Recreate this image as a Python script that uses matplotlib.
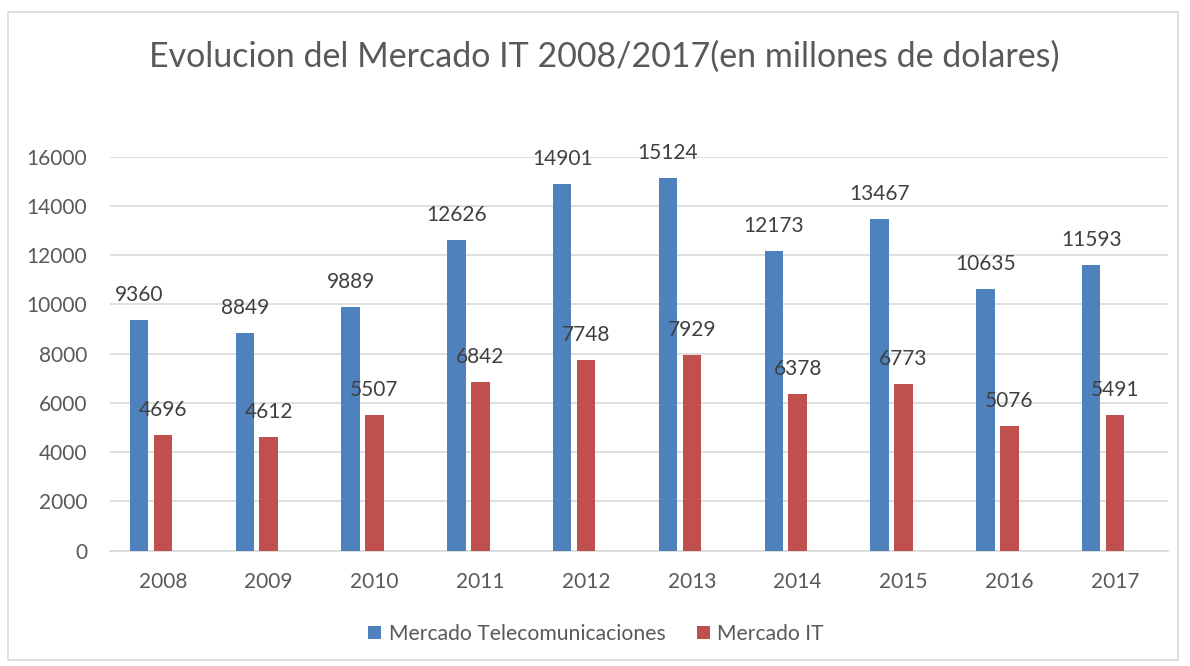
import matplotlib
matplotlib.use("Agg")
import matplotlib.pyplot as plt
from matplotlib.patches import Rectangle
import numpy as np

years = ["2008", "2009", "2010", "2011", "2012", "2013", "2014", "2015", "2016", "2017"]
telecom = [9360, 8849, 9889, 12626, 14901, 15124, 12173, 13467, 10635, 11593]
it_market = [4696, 4612, 5507, 6842, 7748, 7929, 6378, 6773, 5076, 5491]
series_names = ["Mercado Telecomunicaciones", "Mercado IT"]
title = "Evolucion del Mercado IT 2008/2017(en millones de dolares)"
yticks = [0, 2000, 4000, 6000, 8000, 10000, 12000, 14000, 16000]

plt.rcParams['font.family'] = ['Lato', 'DejaVu Sans']
W, H = 1190, 666
fig = plt.figure(figsize=(W / 100, H / 100), dpi=100)
fig.patch.set_facecolor("white")

# chart border
fig.patches.append(Rectangle((8 / W, 1 - 660 / H), (1178 - 8) / W, (660 - 12) / H,
                             transform=fig.transFigure, fill=False,
                             edgecolor="#D9D9D9", linewidth=1.2))

ax = fig.add_axes([110 / W, 1 - 550.7 / H, (1168 - 110) / W, (550.7 - 156.7) / H])
x = np.arange(len(years))
bw = 0.175
off = 0.226
blue = "#4F81BD"
red = "#C0504D"
b1 = ax.bar(x - off, telecom, bw, color=blue, label=series_names[0], zorder=3)
b2 = ax.bar(x, it_market, bw, color=red, label=series_names[1], zorder=3)

ax.set_xlim(-0.5, len(years) - 0.5)
ax.set_ylim(0, 16000)
ax.set_yticks(yticks)
ax.set_yticklabels([str(v) for v in yticks])
ax.set_xticks(x)
ax.set_xticklabels(years)
ax.grid(axis="y", color="#D9D9D9", linewidth=1.2, zorder=0)
for s in ["top", "right", "left"]:
    ax.spines[s].set_visible(False)
ax.spines["bottom"].set_color("#D9D9D9")
ax.spines["bottom"].set_linewidth(1.2)
ax.tick_params(axis="both", length=0, labelsize=15, colors="#595959")
ax.tick_params(axis="y", pad=16.5)
ax.tick_params(axis="x", pad=15)

for bars in (b1, b2):
    for rect in bars:
        h = rect.get_height()
        ax.annotate(f"{int(h)}", (rect.get_x() + rect.get_width() / 2, h),
                    xytext=(0, 25), textcoords="offset pixels",
                    ha="center", va="center", fontsize=15, color="#404040", zorder=4)

fig.text(604 / W, 1 - 57 / H, title, ha="center", va="center", fontsize=24.5, color="#595959")

leg = fig.legend(handles=[b1, b2], labels=series_names, loc="center",
                 bbox_to_anchor=(596 / W, 1 - 634 / H), ncol=2, frameon=False,
                 fontsize=15.2, handlelength=0.6, handleheight=0.6, handletextpad=0.35,
                 columnspacing=1.5)
for t in leg.get_texts():
    t.set_color("#595959")

fig.savefig("out.png", dpi=100)
